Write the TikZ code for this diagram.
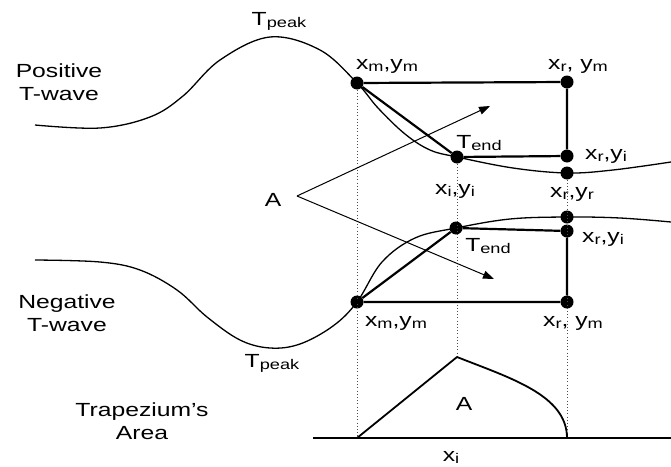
\documentclass[tikz,border=0pt]{standalone}
\usepackage{fontspec}
\setmainfont{Liberation Sans}
\usepackage{graphicx}
\usetikzlibrary{arrows.meta}
\newcommand{\hwide}[1]{\scalebox{1.3}[1]{#1}}
\newcommand{\sbs}[1]{\raisebox{-0.2ex}{\fontsize{14}{14}\selectfont #1}}
\begin{document}
\begin{tikzpicture}[x=1pt,y=-1pt,
  lbl/.style={inner sep=0pt, font=\fontsize{19}{23}\selectfont, align=center},
  dot/.style={circle, fill=black, inner sep=0pt, minimum size=13pt},
  wave/.style={line width=1.3pt},
  rect/.style={line width=2.2pt, line join=round},
  guide/.style={line width=1pt, dash pattern=on 1pt off 2.2pt, black!70},
  pointer/.style={line width=1pt, -{Triangle[length=11pt,width=8pt]}},
]
\useasboundingbox (0,0) rectangle (671,466);
% coordinates
\coordinate (b0) at (313,438);
\coordinate (b1) at (357,438);
\coordinate (b2) at (567,438);
\coordinate (b3) at (671,438);
\coordinate (tp) at (457,357);
\coordinate (av) at (297,196);
\coordinate (ua) at (490,106);
\coordinate (la) at (494,279);
% dots
\node[dot] (um) at (357,83) {};
\node[dot] (ur) at (567,82) {};
\node[dot] (ut) at (457,157) {};
\node[dot] (uri) at (567,156) {};
\node[dot] (uyr) at (567,173) {};
\node[dot] (lyr) at (567,217) {};
\node[dot] (lri) at (567,231) {};
\node[dot] (lt) at (456,228) {};
\node[dot] (lm) at (357,302) {};
\node[dot] (lr) at (567,302) {};
% guides
\draw[guide] (um) -- (b1);
\draw[guide] (ut) -- (tp);
\draw[guide] (uyr) -- (b2);
% waves
\draw[wave] plot[smooth, tension=0.6] coordinates {(35,125) (100,128) (150,117) (183,96) (220,60) (270,37) (320,50) (357,83) (378,108) (405,134) (430,150) (457,157) (513,168) (567,173) (613,170) (671,162)};
\draw[wave] plot[smooth, tension=0.6] coordinates {(35,260) (100,262) (140,270) (177,290) (207,317) (240,340) (270,348) (300,344) (333,326) (357,302) (382,262) (415,238) (456,228) (510,219) (567,217) (620,218) (671,222)};
% rectangles
\draw[rect] (um) -- (ur) -- (uri) -- (ut) -- (um);
\draw[rect] (lm) -- (lr) -- (lri) -- (lt) -- (lm);
% pointers
\node[lbl] (A) at (273,200) {\hwide{A}};
\draw[pointer] (av) -- (ua);
\draw[pointer] (av) -- (la);
% trapezium area
\draw[line width=1.3pt] (b0) -- (b3);
\draw[line width=1.8pt, line join=round] (b1) -- (tp) .. controls (510,378) and (567,395) .. (b2);
% labels
\node[lbl] (pos) at (59,82) {\hwide{Positive}\\\hwide{T-wave}};
\node[lbl] (neg) at (67,313) {\hwide{Negative}\\\hwide{T-wave}};
\node[lbl] (trap) at (142,421) {\hwide{Trapezium's}\\\hwide{Area}};
\node[lbl] (tpk1) at (279,21) {\hwide{T\sbs{peak}}};
\node[lbl] (tpk2) at (272,363) {\hwide{T\sbs{peak}}};
\node[lbl] (l1) at (387,66) {\hwide{x\sbs{m},y\sbs{m}}};
\node[lbl] (l2) at (578,66) {\hwide{x\sbs{r}, y\sbs{m}}};
\node[lbl] (l3) at (479,143) {\hwide{T\sbs{end}}};
\node[lbl] (l4) at (606,156) {\hwide{x\sbs{r},y\sbs{i}}};
\node[lbl] (l5) at (455,191) {\hwide{x\sbs{i},y\sbs{i}}};
\node[lbl] (l6) at (572,194) {\hwide{x\sbs{r},y\sbs{r}}};
\node[lbl] (l7) at (603,239) {\hwide{x\sbs{r},y\sbs{i}}};
\node[lbl] (l8) at (488,246) {\hwide{T\sbs{end}}};
\node[lbl] (l9) at (396,323) {\hwide{x\sbs{m},y\sbs{m}}};
\node[lbl] (l10) at (573,323) {\hwide{x\sbs{r}, y\sbs{m}}};
\node[lbl] (aa) at (464,404) {\hwide{A}};
\node[lbl] (xi) at (451,457) {\hwide{x\sbs{i}}};
\end{tikzpicture}
\end{document}
